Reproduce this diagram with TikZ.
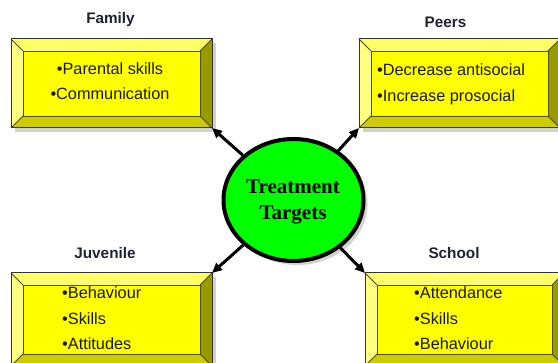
\documentclass[tikz,border=0pt]{standalone}
\usepackage{fontspec}
\setmainfont{Liberation Sans}
\newfontfamily\hubserif{Liberation Serif}
\usetikzlibrary{shapes.geometric,arrows.meta,calc,shadows}

\definecolor{face}{HTML}{FFFF00}
\definecolor{bevtop}{HTML}{FFFF66}
\definecolor{bevleft}{HTML}{FFFF80}
\definecolor{bevright}{HTML}{999900}
\definecolor{bevbottom}{HTML}{CCCC00}
\definecolor{bevline}{HTML}{4D4D00}
\definecolor{hubgreen}{HTML}{00FF00}
\definecolor{titleink}{HTML}{1F2233}
\definecolor{itemink}{HTML}{1A1A00}
\definecolor{dropshade}{HTML}{D2D2D2}

% width of the bevelled rim of each panel
\newcommand\bevw{12}

% paints the four bevel faces, inner outline and corner creases of a panel node
\newcommand\bevelpanel[1]{%
  \fill[bevtop] (#1.north west) -- (#1.north east) -- ($(#1.north east)+(-\bevw,-\bevw)$) -- ($(#1.north west)+(\bevw,-\bevw)$) -- cycle;
  \fill[bevleft] (#1.north west) -- ($(#1.north west)+(\bevw,-\bevw)$) -- ($(#1.south west)+(\bevw,\bevw)$) -- (#1.south west) -- cycle;
  \fill[bevright] (#1.north east) -- (#1.south east) -- ($(#1.south east)+(-\bevw,\bevw)$) -- ($(#1.north east)+(-\bevw,-\bevw)$) -- cycle;
  \fill[bevbottom] (#1.south west) -- (#1.south east) -- ($(#1.south east)+(-\bevw,\bevw)$) -- ($(#1.south west)+(\bevw,\bevw)$) -- cycle;
  \draw[crease] ($(#1.south west)+(\bevw,\bevw)$) rectangle ($(#1.north east)+(-\bevw,-\bevw)$);
  \draw[crease] (#1.north west) -- ++(\bevw,-\bevw);
  \draw[crease] (#1.north east) -- ++(-\bevw,-\bevw);
  \draw[crease] (#1.south west) -- ++(\bevw,\bevw);
  \draw[crease] (#1.south east) -- ++(-\bevw,\bevw);
  \draw[rim] (#1.south west) rectangle (#1.north east);
}

\tikzset{
  panel/.style={rectangle, fill=face, inner sep=0pt, outer sep=0pt,
    drop shadow={shadow xshift=4pt, shadow yshift=-4pt, fill=dropshade, opacity=1}},
  crease/.style={draw=bevline, line width=0.8pt},
  rim/.style={draw=black!80, line width=1pt},
  hub/.style={ellipse, draw=black, line width=4pt, fill=hubgreen, inner sep=0pt,
    minimum width=140pt, minimum height=122pt,
    drop shadow={shadow xshift=4pt, shadow yshift=-4pt, fill=dropshade, opacity=1}},
  hubtext/.style={font=\hubserif\fontsize{21}{25}\selectfont\bfseries, text=black, inner sep=0pt},
  heading/.style={font=\fontsize{15.3}{18}\selectfont\bfseries, text=titleink, inner sep=0pt},
  item/.style={font=\fontsize{16.3}{19}\selectfont, text=itemink, inner sep=0pt},
  link/.style={line width=3pt, draw=black, -{Triangle[length=10pt,width=9pt]}}
}

\begin{document}
\begin{tikzpicture}[x=1pt, y=1pt]
  \useasboundingbox (0,0) rectangle (558,363);
  \clip (0,0) rectangle (558,363);

  % the four target panels
  \node[panel, minimum width=201pt, minimum height=89pt] (fam) at (111.5,279.5) {};
  \node[panel, minimum width=201pt, minimum height=89pt] (peer) at (459.5,279.5) {};
  \node[panel, minimum width=201pt, minimum height=93pt] (juv) at (111.5,43.5) {};
  \node[panel, minimum width=199pt, minimum height=93pt] (sch) at (464.5,43.5) {};
  \bevelpanel{fam}
  \bevelpanel{peer}
  \bevelpanel{juv}
  \bevelpanel{sch}

  % central hub
  \node[hub] (hub) at (293.5,163) {};
  \node[hubtext, anchor=base] (hubline1) at (293,169.7) {Treatment};
  \node[hubtext, anchor=base] (hubline2) at (293,143) {Targets};

  % connectors from the hub to the panel corners
  \draw[link] (hub) -- (fam.south east);
  \draw[link] (hub) -- (peer.south west);
  \draw[link] (hub) -- (juv.north east);
  \draw[link] (hub) -- (sch.north west);

  % panel headings
  \node[heading, anchor=base] (famtitle) at (110.5,339) {Family};
  \node[heading, anchor=base] (peertitle) at (445.5,335.7) {Peers};
  \node[heading, anchor=base] (juvtitle) at (105,104.7) {Juvenile};
  \node[heading, anchor=base] (schtitle) at (454,104.7) {School};

  % panel contents
  \node[item, anchor=base] (fam1) at (110,288) {•Parental skills};
  \node[item, anchor=base] (fam2) at (110,263) {•Communication};
  \node[item, anchor=base west] (peer1) at (377,287) {•Decrease antisocial};
  \node[item, anchor=base west] (peer2) at (377,261.5) {•Increase prosocial};
  \node[item, anchor=base west] (juv1) at (62,64.7) {•Behaviour};
  \node[item, anchor=base west] (juv2) at (62,38.7) {•Skills};
  \node[item, anchor=base west] (juv3) at (62,13.7) {•Attitudes};
  \node[item, anchor=base west] (sch1) at (414,64.7) {•Attendance};
  \node[item, anchor=base west] (sch2) at (414,38.7) {•Skills};
  \node[item, anchor=base west] (sch3) at (414,13.7) {•Behaviour};
\end{tikzpicture}
\end{document}
